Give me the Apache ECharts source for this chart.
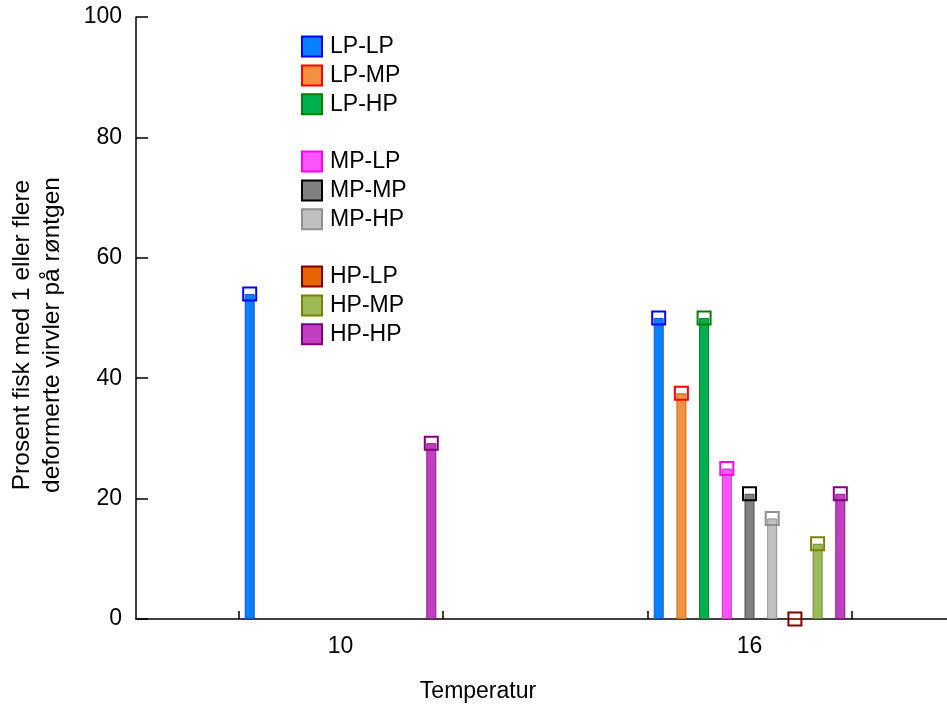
<!DOCTYPE html>
<html>
<head>
<meta charset="utf-8">
<script src="https://cdn.jsdelivr.net/npm/echarts@6/dist/echarts.min.js"></script>
<style>
html,body{margin:0;padding:0;background:#fff;}
#chart{width:947px;height:706px;}
</style>
</head>
<body>
<div id="chart"></div>
<script>
// ---- data ----
const categories = ['10', '16'];
const seriesNames = ['LP-LP', 'LP-MP', 'LP-HP', 'MP-LP', 'MP-MP', 'MP-HP', 'HP-LP', 'HP-MP', 'HP-HP'];
const lpLp = [54, 50];
const lpMp = [null, 37.5];
const lpHp = [null, 50];
const mpLp = [null, 25];
const mpMp = [null, 20.8];
const mpHp = [null, 16.7];
const hpLp = [null, 0];
const hpMp = [null, 12.5];
const hpHp = [29.2, 20.8];
const yTicks = [0, 20, 40, 60, 80, 100];

const seriesValues = [lpLp, lpMp, lpHp, mpLp, mpMp, mpHp, hpLp, hpMp, hpHp];

// ---- styles ----
const fillColors   = ['#0a80ff', '#f2913f', '#00b050', '#ff55ff', '#808080', '#c0c0c0', '#e86400', '#9bbb59', '#c040c0'];
const edgeColors   = ['#1a50d0', '#c86a20', '#00802a', '#d030d0', '#505050', '#909090', '#a03000', '#6a8a2a', '#8a1a8a'];
const markerColors = ['#0000ff', '#ff0000', '#008000', '#ff00ff', '#000000', '#909090', '#800000', '#808000', '#800080'];

const FONT = "'Liberation Sans', Arial, sans-serif";
const FS = 23;

const series = seriesNames.map((name, s) => ({
  name: name,
  type: 'bar',
  xAxisIndex: 0,
  yAxisIndex: 0,
  barWidth: 10,
  barGap: '127%',
  data: seriesValues[s],
  itemStyle: { color: fillColors[s], borderColor: edgeColors[s], borderWidth: 1 },
  markPoint: {
    symbol: 'rect',
    symbolSize: 13,
    silent: true,
    label: { show: false },
    itemStyle: { color: 'rgba(0,0,0,0)', borderColor: markerColors[s], borderWidth: 2 },
    data: seriesValues[s]
      .map((v, i) => (v === null ? null : { coord: [i, v] }))
      .filter(d => d !== null)
  }
}));

function makeLegend(from, top) {
  return {
    orient: 'vertical',
    left: 301,
    top: top,
    padding: 0,
    itemWidth: 20,
    itemHeight: 20,
    itemGap: 5.9,
    icon: 'rect',
    textStyle: { fontFamily: FONT, fontSize: FS, color: '#000', lineHeight: 20, padding: [0, 0, 0, 3] },
    data: seriesNames.slice(from, from + 3).map((n, k) => ({
      name: n,
      itemStyle: { color: fillColors[from + k], borderColor: markerColors[from + k], borderWidth: 2 }
    }))
  };
}

const option = {
  animation: false,
  backgroundColor: '#fff',
  grid: { left: 136, right: -7, top: 17, bottom: 87, containLabel: false, outerBoundsMode: 'none' },
  legend: [makeLegend(0, 35), makeLegend(3, 150), makeLegend(6, 265)],
  xAxis: [
    {
      type: 'category',
      data: categories,
      position: 'bottom',
      axisLine: { show: true, lineStyle: { color: '#000', width: 1.5 } },
      axisTick: { show: false },
      axisLabel: { fontFamily: FONT, fontSize: FS, color: '#000', margin: 16 },
      name: 'Temperatur',
      nameLocation: 'middle',
      nameGap: 61,
      nameTextStyle: { fontFamily: FONT, fontSize: FS, color: '#000', padding: [0, 134, 0, 0] },
      splitLine: { show: false }
    },
    {
      type: 'value',
      min: 0,
      max: 8,
      position: 'bottom',
      axisLine: { show: false },
      axisLabel: { show: false },
      splitLine: { show: false },
      axisTick: { show: true, inside: true, length: 8, customValues: [1, 3, 5, 7], lineStyle: { color: '#000', width: 1.5 } }
    }
  ],
  yAxis: {
    type: 'value',
    min: 0,
    max: 100,
    interval: 20,
    axisLine: { show: true, lineStyle: { color: '#000', width: 1.5 } },
    axisTick: { show: true, inside: true, length: 12, lineStyle: { color: '#000', width: 1.5 } },
    axisLabel: { fontFamily: FONT, fontSize: FS, color: '#000', margin: 14, customValues: yTicks },
    splitLine: { show: false },
    name: 'Prosent fisk med 1 eller flere\ndeformerte virvler på røntgen',
    nameLocation: 'middle',
    nameGap: 69,
    nameTextStyle: { fontFamily: FONT, fontSize: 24.5, color: '#000', lineHeight: 30, padding: [0, 34, 0, 0] }
  },
  series: series
};

const chart = echarts.init(document.getElementById('chart'), null, { renderer: 'canvas' });
chart.setOption(option);
</script>
</body>
</html>
